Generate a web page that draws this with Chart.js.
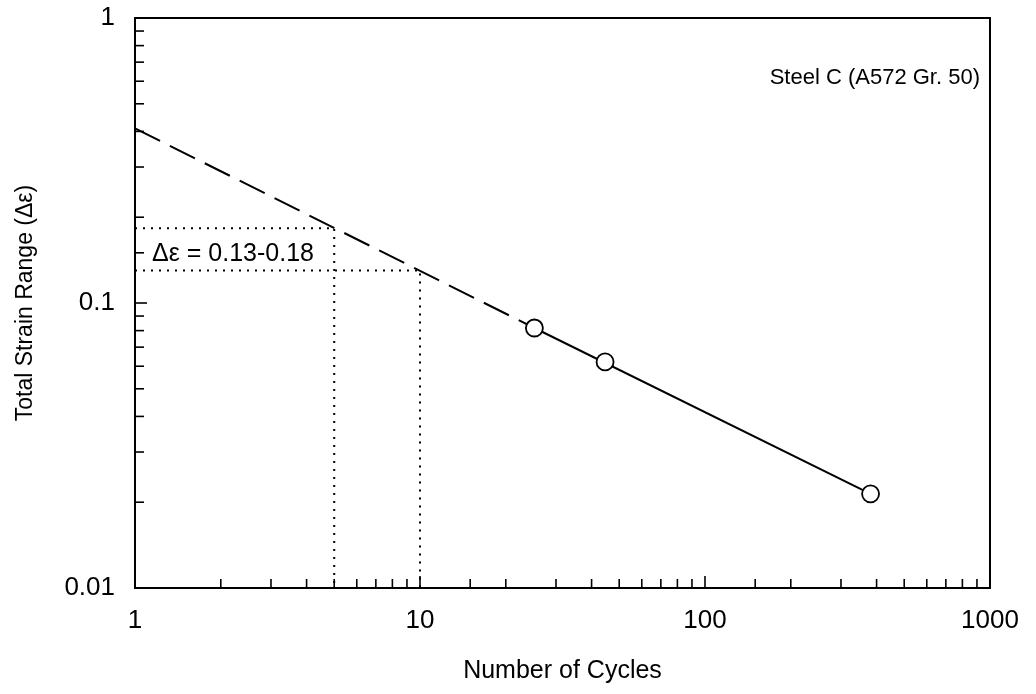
<!DOCTYPE html>
<html>
<head>
<meta charset="utf-8">
<script src="https://cdn.jsdelivr.net/npm/chart.js@4.4.0/dist/chart.umd.min.js"></script>
<style>
html, body { margin: 0; padding: 0; background: #fff; }
#wrap { width: 1036px; height: 694px; }
</style>
</head>
<body>
<div id="wrap"><canvas id="chart" width="1036" height="694"></canvas></div>
<script>
// test points
var cycles = [25.2, 44.6, 381];
var strainRange = [0.0817, 0.0621, 0.0214];
// fitted line through tests, and its extrapolation back to N = 1
var fitCycles = [25.2, 381];
var fitStrain = [0.0817, 0.0214];
var extrapCycles = [1, 25.2];
var extrapStrain = [0.41, 0.0817];
// dotted guide lines at N = 5 and N = 10
var guideUpperCycles = [1, 5, 5];
var guideUpperStrain = [0.183, 0.183, 0.01];
var guideLowerCycles = [1, 10, 10];
var guideLowerStrain = [0.13, 0.13, 0.01];

var xTickLabels = ["1", "10", "100", "1000"];
var yTickLabels = ["0.01", "0.1", "1"];
var steelLabel = "Steel C (A572 Gr. 50)";
var rangeLabel = "\u0394\u03b5 = 0.13-0.18";

var FONT = "'Liberation Sans', Arial, sans-serif";

function toPoints(xs, ys) {
    var pts = [];
    for (var i = 0; i < xs.length; i++) {
        pts.push({x: xs[i], y: ys[i]});
    }
    return pts;
}

function decadeOf(v) {
    var e = Math.round(Math.log10(v));
    if (Math.abs(Math.log10(v) - e) < 1e-6) return e;
    return null;
}

// box + inward ticks + text labels
var framePlugin = {
    id: 'frame',
    afterDraw: function (chart) {
        var ctx = chart.ctx;
        var a = chart.chartArea;
        var xs = chart.scales.x;
        var ys = chart.scales.y;
        ctx.save();
        ctx.strokeStyle = '#000';
        ctx.lineWidth = 2;
        ctx.strokeRect(a.left, a.top, a.right - a.left, a.bottom - a.top);

        ctx.lineWidth = 1.6;
        xs.ticks.forEach(function (t) {
            var px = xs.getPixelForValue(t.value);
            var len = decadeOf(t.value) !== null ? 12 : 9;
            ctx.beginPath();
            ctx.moveTo(px, a.bottom);
            ctx.lineTo(px, a.bottom - len);
            ctx.stroke();
        });
        ys.ticks.forEach(function (t) {
            var py = ys.getPixelForValue(t.value);
            var len = decadeOf(t.value) !== null ? 12 : 9;
            ctx.beginPath();
            ctx.moveTo(a.left, py);
            ctx.lineTo(a.left + len, py);
            ctx.stroke();
        });

        ctx.fillStyle = '#000';
        ctx.font = '22px ' + FONT;
        ctx.textAlign = 'right';
        ctx.textBaseline = 'middle';
        ctx.fillText(steelLabel, a.right - 10, a.top + 60);

        var yMid = (ys.getPixelForValue(guideUpperStrain[0]) + ys.getPixelForValue(guideLowerStrain[0])) / 2;
        ctx.font = '25px ' + FONT;
        ctx.textAlign = 'left';
        ctx.fillText(rangeLabel, xs.getPixelForValue(1) + 17, yMid + 5);
        ctx.restore();
    }
};

var ctx = document.getElementById('chart');
var chart = new Chart(ctx, {
    type: 'scatter',
    data: {
        datasets: [
            {
                data: toPoints(cycles, strainRange),
                showLine: false,
                pointRadius: 8.5,
                pointBackgroundColor: '#fff',
                pointBorderColor: '#000',
                pointBorderWidth: 1.8
            },
            {
                data: toPoints(fitCycles, fitStrain),
                showLine: true,
                pointRadius: 0,
                borderColor: '#000',
                borderWidth: 2
            },
            {
                data: toPoints(extrapCycles, extrapStrain),
                showLine: true,
                pointRadius: 0,
                borderColor: '#000',
                borderWidth: 2,
                borderDash: [28, 11]
            },
            {
                data: toPoints(guideUpperCycles, guideUpperStrain),
                showLine: true,
                pointRadius: 0,
                borderColor: '#000',
                borderWidth: 2,
                borderDash: [2, 6]
            },
            {
                data: toPoints(guideLowerCycles, guideLowerStrain),
                showLine: true,
                pointRadius: 0,
                borderColor: '#000',
                borderWidth: 2,
                borderDash: [2, 6]
            }
        ]
    },
    options: {
        responsive: false,
        animation: false,
        layout: {padding: {left: 0, right: 46, top: 18, bottom: 0}},
        plugins: {
            legend: {display: false},
            tooltip: {enabled: false}
        },
        scales: {
            x: {
                type: 'logarithmic',
                min: 1,
                max: 1000,
                grid: {display: false, drawTicks: false},
                border: {display: false},
                ticks: {
                    autoSkip: false,
                    maxRotation: 0,
                    padding: 17,
                    color: '#000',
                    font: {family: FONT, size: 26},
                    callback: function (v) {
                        var e = decadeOf(v);
                        return e === null ? '' : xTickLabels[e];
                    }
                },
                title: {
                    display: true,
                    text: 'Number of Cycles',
                    color: '#000',
                    font: {family: FONT, size: 25},
                    padding: {top: 0, bottom: 8}
                },
                afterFit: function (s) {
                    s.height = 106;
                    s.paddingLeft = 0;
                    s.paddingRight = 0;
                }
            },
            y: {
                type: 'logarithmic',
                min: 0.01,
                max: 1,
                grid: {display: false, drawTicks: false},
                border: {display: false},
                ticks: {
                    autoSkip: false,
                    padding: 20,
                    color: '#000',
                    font: {family: FONT, size: 26},
                    callback: function (v) {
                        var e = decadeOf(v);
                        return e === null ? '' : yTickLabels[e + 2];
                    }
                },
                title: {
                    display: true,
                    text: 'Total Strain Range (\u0394\u03b5)',
                    color: '#000',
                    font: {family: FONT, size: 23},
                    padding: {top: 12, bottom: 0}
                },
                afterFit: function (s) {
                    s.width = 135;
                    s.paddingTop = 0;
                    s.paddingBottom = 0;
                }
            }
        }
    },
    plugins: [framePlugin]
});
</script>
</body>
</html>
